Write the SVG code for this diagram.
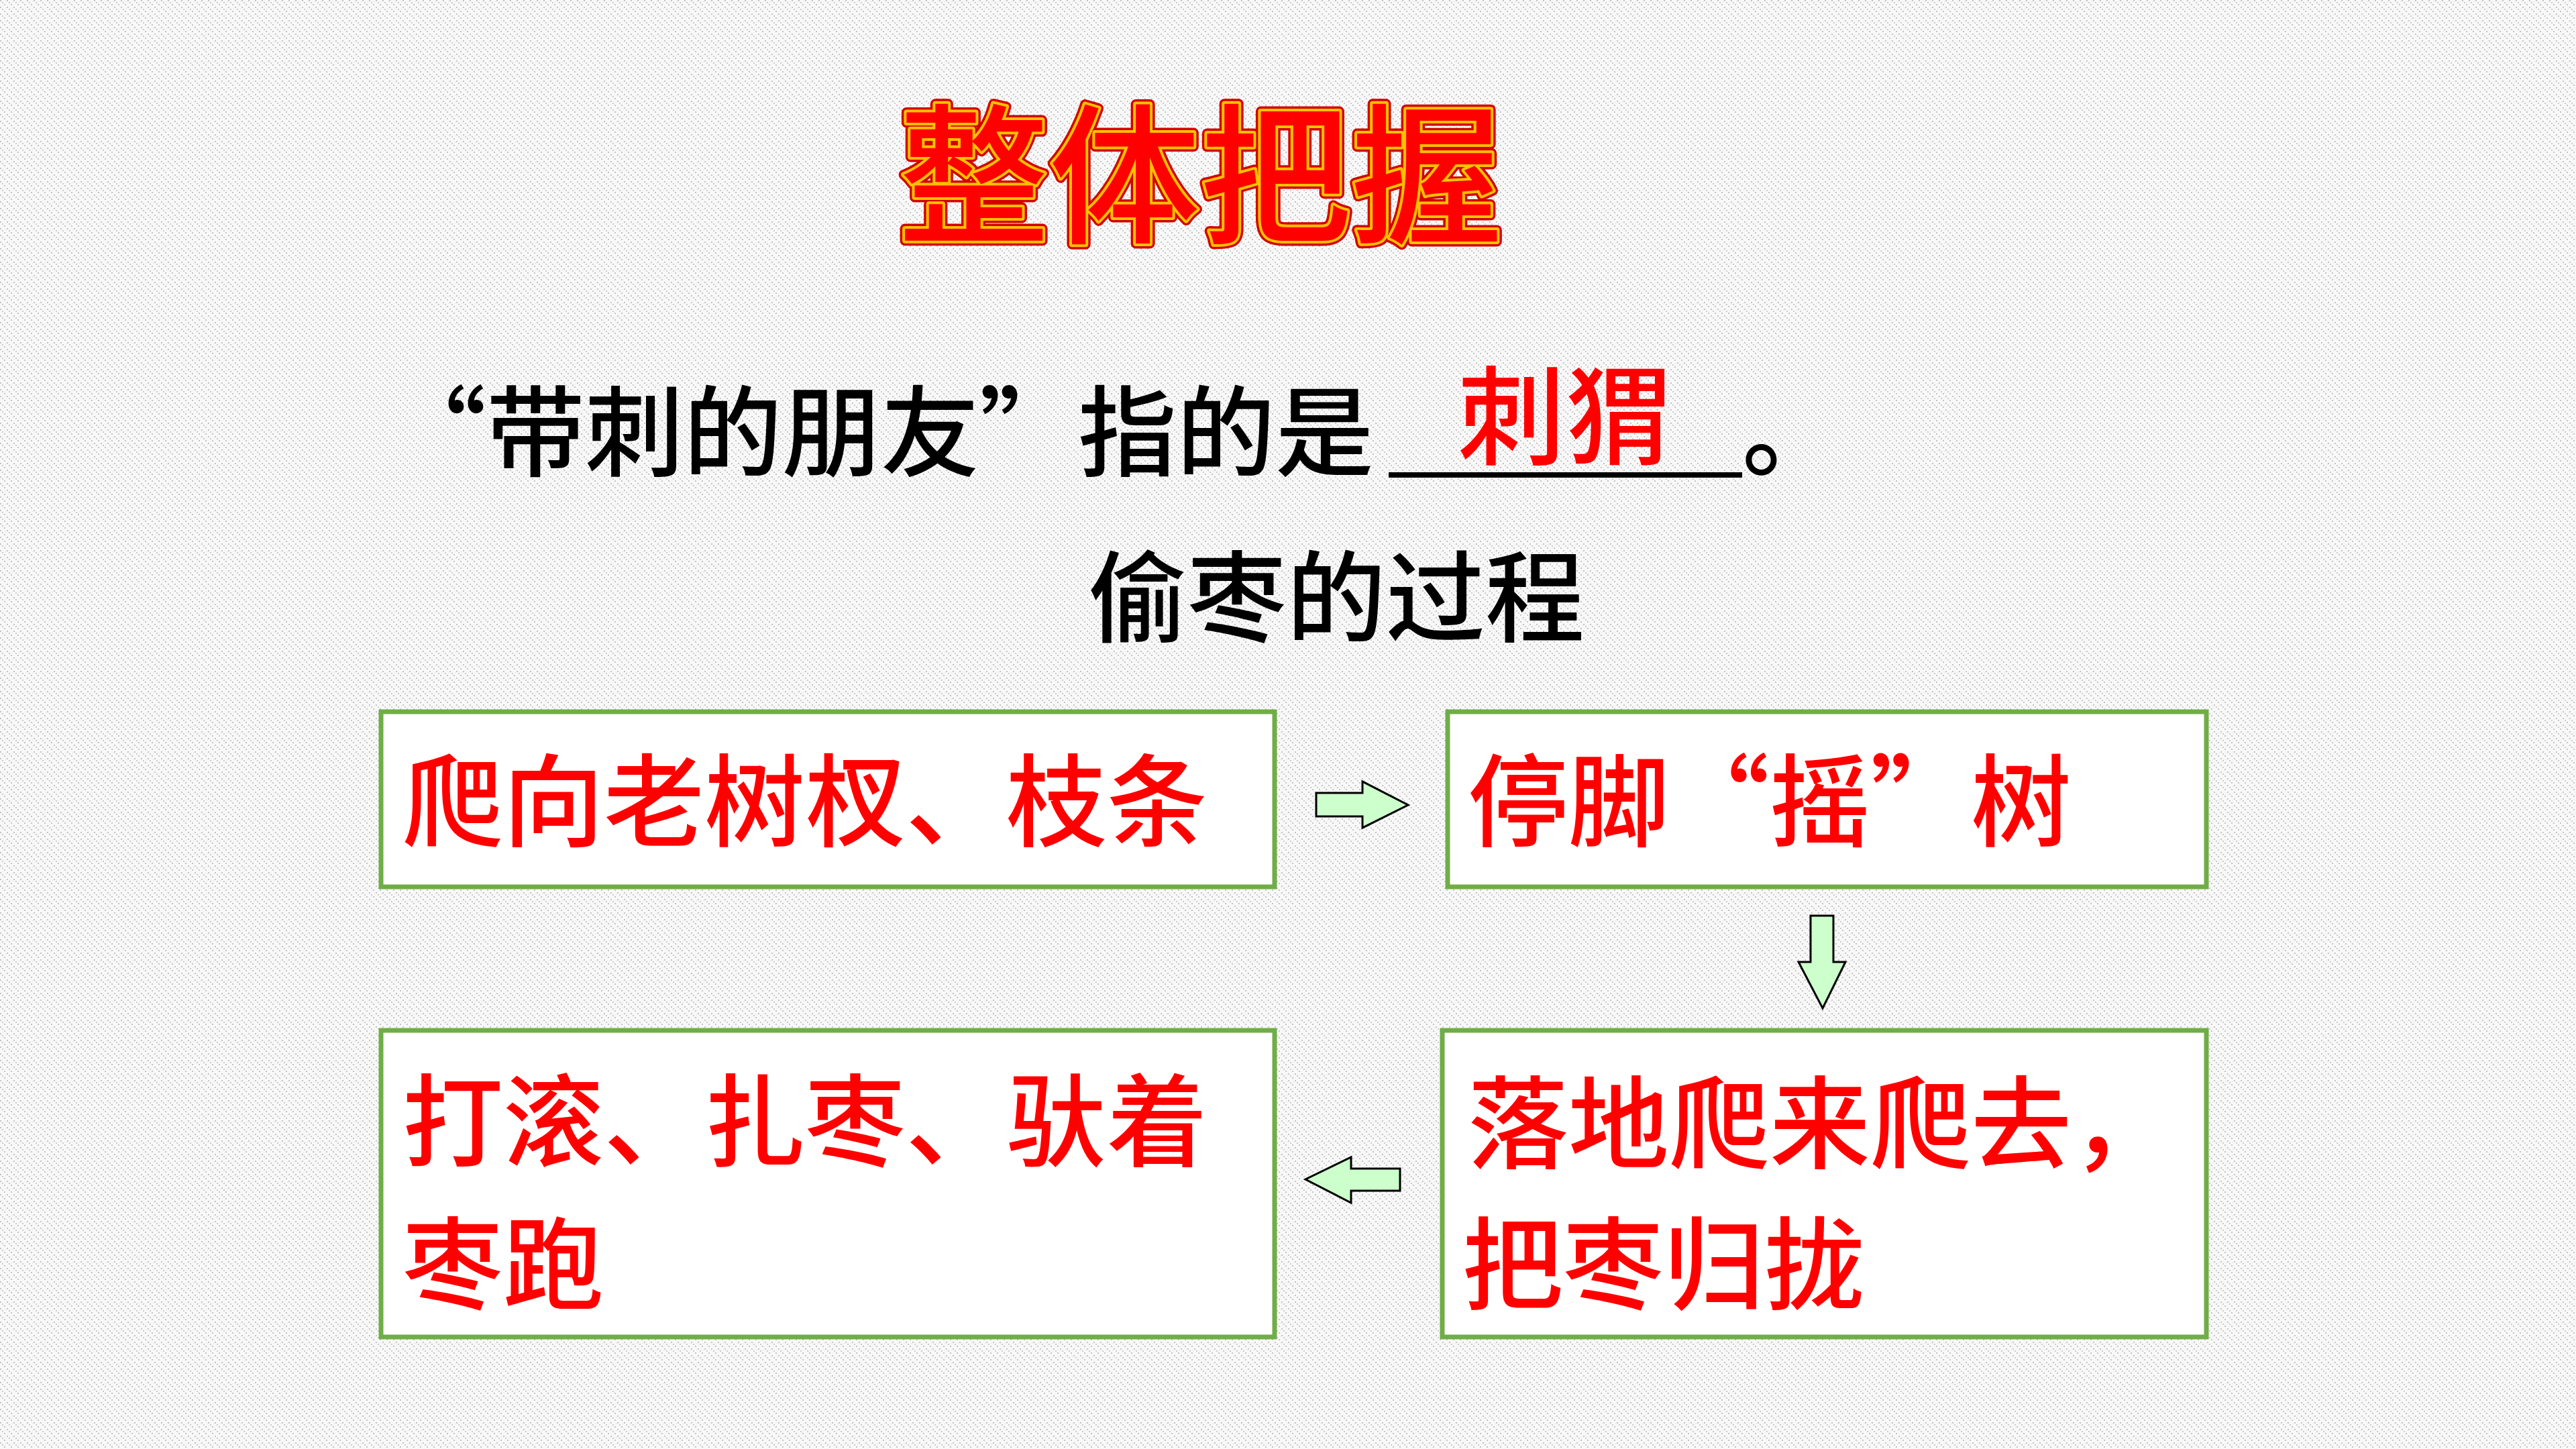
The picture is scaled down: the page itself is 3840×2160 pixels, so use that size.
<svg xmlns="http://www.w3.org/2000/svg" width="3840" height="2160" viewBox="0 0 3840 2160">
<defs>
<pattern id="bg" x="0" y="0" width="10" height="10" patternUnits="userSpaceOnUse">
<rect width="10" height="10" fill="#f8f8f8"/>
<rect x="0" y="0" width="2" height="2" fill="#c4c4c4"/>
<rect x="3" y="3" width="2" height="2" fill="#cccccc"/>
<rect x="6" y="6" width="2" height="2" fill="#c4c4c4"/>
<rect x="8" y="2" width="1" height="1" fill="#dcdcdc"/>
</pattern>
<style>
.box{fill:#ffffff;stroke:#70ad47;stroke-width:7}
.arr{fill:#ccffcc;stroke:#000000;stroke-width:3;stroke-linejoin:miter}
.cn{font-family:"Noto Sans CJK SC","Noto Sans CJK JP",sans-serif;font-weight:500}
.red{fill:#ff0000}
.blk{fill:#000000}
</style>
</defs>
<rect width="3840" height="2160" fill="url(#bg)"/>

<g id="title">
<text class="cn" x="1789" y="345" font-size="225" text-anchor="middle" fill="#d40000" stroke="#d40000" stroke-width="15" stroke-linejoin="round">整体把握</text>
<text class="cn" x="1789" y="345" font-size="225" text-anchor="middle" fill="#ff0000" stroke="#ffc000" stroke-width="8" stroke-linejoin="round" paint-order="stroke">整体把握</text>
</g>

<g id="question">
<text class="cn blk" x="578" y="698" font-size="147" lang="zh-CN">“带刺的朋友”指的是</text>
<rect x="2070" y="704" width="527" height="8" fill="#000000"/>
<text class="cn red" x="2333" y="680" font-size="160" text-anchor="middle" lang="zh-CN">刺猬</text>
<text class="cn blk" x="2597" y="698" font-size="147" lang="zh-CN">。</text>
</g>

<g id="subtitle">
<text class="cn blk" x="1622" y="945" font-size="148" lang="zh-CN">偷枣的过程</text>
</g>

<g id="node1">
<rect class="box" x="568" y="1061" width="1332" height="261"/>
<text class="cn red" x="600" y="1250" font-size="150" lang="zh-CN">爬向老树杈、枝条</text>
</g>

<g id="node2">
<rect class="box" x="2158" y="1061" width="1131" height="261"/>
<text class="cn red" x="2188" y="1250" font-size="150" lang="zh-CN">停脚“摇”树</text>
</g>

<g id="node3">
<rect class="box" x="2150" y="1536" width="1139" height="457"/>
<text class="cn red" x="2188" y="1730" font-size="150" lang="zh-CN">落地爬来爬去，</text>
<text class="cn red" x="2180" y="1940" font-size="150" lang="zh-CN">把枣归拢</text>
</g>

<g id="node4">
<rect class="box" x="568" y="1536" width="1332" height="457"/>
<text class="cn red" x="600" y="1727" font-size="150" lang="zh-CN">打滚、扎枣、驮着</text>
<text class="cn red" x="600" y="1940" font-size="150" lang="zh-CN">枣跑</text>
</g>

<g id="connectors">
<polygon class="arr" points="1962,1182 2031,1182 2031,1165 2099,1200 2031,1234 2031,1217 1962,1217"/>
<polygon class="arr" points="2699,1365 2733,1365 2733,1434 2751,1434 2717,1503 2681,1434 2699,1434"/>
<polygon class="arr" points="2087,1742 2014,1742 2014,1725 1946,1758 2014,1793 2014,1775 2087,1775"/>
</g>
</svg>
